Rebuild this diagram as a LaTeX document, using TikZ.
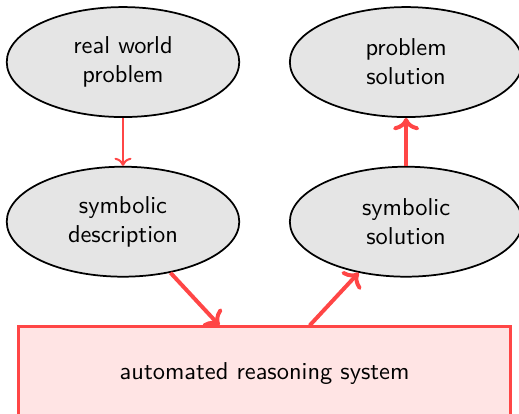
\documentclass[tikz,border=0pt]{standalone}
\usepackage{tikz}
\usetikzlibrary{arrows.meta,positioning,shapes.geometric}
\usetikzlibrary{calc}

\definecolor{arrred}{RGB}{255,70,70}
\definecolor{boxpink}{RGB}{255,228,228}

\begin{document}
\begin{tikzpicture}[
  font=\sffamily\fontsize{10.5}{12.4}\selectfont,
  node distance=20.6pt and 21pt,
  blob/.style={ellipse, draw, line width=0.75pt, fill=black!10, minimum width=100pt, minimum height=47.3pt, inner sep=0pt, align=center},
  sysbox/.style={rectangle, draw=arrred, line width=1.2pt, fill=boxpink, minimum width=211.6pt, minimum height=40.4pt, align=center},
  thinarr/.style={-To, arrred, line width=0.86pt},
  thickarr/.style={-To, arrred, line width=1.7pt}
]
  \useasboundingbox (-52.9pt,26.7pt) rectangle (170.3pt,-151.3pt);

  \node[blob] (rwp) {real world\\problem};
  \node[blob, right=of rwp] (psol) {problem\\solution};
  \node[blob, below=of rwp] (desc) {symbolic\\description};
  \node[blob, below=of psol] (ssol) {symbolic\\solution};

  \coordinate (mid) at ($(desc.south)!0.5!(ssol.south)$);
  \node[sysbox, below=of mid] (ars) {automated reasoning system};
  \coordinate (in) at ($(ars.north)+(-19.4pt,0)$);
  \coordinate (out) at ($(ars.north)+(19.4pt,0)$);

  \draw[thinarr] (rwp) -- (desc);
  \draw[thickarr] (desc) -- (in);
  \draw[thickarr] (out) -- (ssol);
  \draw[thickarr] (ssol) -- (psol);
\end{tikzpicture}
\end{document}
